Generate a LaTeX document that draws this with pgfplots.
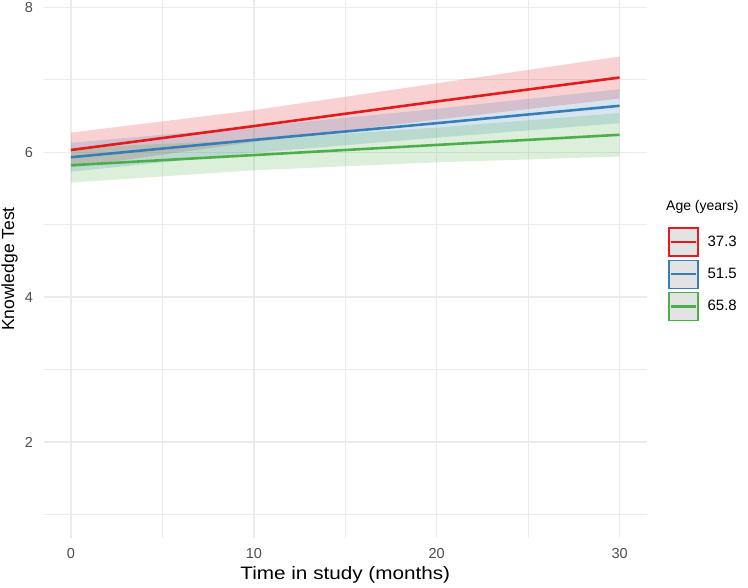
\documentclass[border=0pt]{standalone}
\usepackage{fontspec}
\setmainfont{Liberation Sans}
\usepackage{pgfplots}
\pgfplotsset{compat=1.18}

\definecolor{cRed}{HTML}{E41A1C}
\definecolor{cBlue}{HTML}{377EB8}
\definecolor{cGreen}{HTML}{4DAF4A}
\definecolor{gridgrey}{HTML}{EBEBEB}
\definecolor{tickgrey}{HTML}{4D4D4D}
\definecolor{keygrey}{HTML}{E3E3E3}

\begin{document}
\begin{tikzpicture}
\path[use as bounding box] (-43.6pt,-50pt) rectangle (704.4pt,538pt);
\begin{axis}[
  scale only axis,
  width=603.4pt, height=538pt,
  xmin=-1.5, xmax=31.5,
  ymin=0.676, ymax=8.1,
  axis line style={draw=none},
  major tick length=0pt, minor tick length=0pt,
  xtick={0,10,20,30}, ytick={2,4,6,8},
  minor xtick={5,15,25}, minor ytick={1,3,5,7},
  grid=both,
  major grid style={gridgrey, line width=1.3pt},
  minor grid style={gridgrey, line width=0.7pt},
  /pgf/number format/assume math mode=true,
  tick label style={font=\fontsize{14.5}{17}\selectfont, text=tickgrey},
  xticklabel style={inner sep=0pt, yshift=-10pt},
  yticklabel style={inner sep=0pt, xshift=-10.5pt},
  xlabel={\scalebox{1.15}[1]{Time in study (months)}},
  ylabel={Knowledge Test},
  every axis x label/.style={at={(axis description cs:0.5,-0.0688)}, anchor=center,
    font=\fontsize{18}{21}\selectfont},
  every axis y label/.style={at={(axis description cs:-0.0563,0.5)}, rotate=90, anchor=center,
    font=\fontsize{17.5}{21}\selectfont},
  legend style={draw=none, fill=none, inner sep=0pt,
    at={(axis description cs:1.035,0.578)}, anchor=north west,
    row sep=3pt, font=\fontsize{15}{18}\selectfont,
    /tikz/every odd column/.append style={column sep=7pt}},
  legend cell align=left,
  clip=false,
]
% confidence bands
\addplot[forget plot, draw=none, fill=cRed, fill opacity=0.2]
  coordinates {(0,6.27) (10,6.58) (20,6.95) (30,7.32) (30,6.74) (20,6.45) (10,6.14) (0,5.79)} -- cycle;
\addplot[forget plot, draw=none, fill=cBlue, fill opacity=0.2]
  coordinates {(0,6.13) (10,6.35) (20,6.60) (30,6.87) (30,6.40) (20,6.20) (10,5.99) (0,5.73)} -- cycle;
\addplot[forget plot, draw=none, fill=cGreen, fill opacity=0.2]
  coordinates {(0,6.06) (10,6.17) (20,6.34) (30,6.54) (30,5.94) (20,5.86) (10,5.75) (0,5.58)} -- cycle;
% fitted lines
\addplot[forget plot, cRed, line width=2.6pt] coordinates {(0,6.03) (10,6.36) (20,6.70) (30,7.03)};
\addplot[forget plot, cBlue, line width=2.6pt] coordinates {(0,5.93) (10,6.17) (20,6.40) (30,6.64)};
\addplot[forget plot, cGreen, line width=2.6pt] coordinates {(0,5.82) (10,5.96) (20,6.10) (30,6.24)};
% legend keys
\addlegendimage{legend image code/.code={
  \draw[cRed, line width=1.3pt, fill=keygrey] (0pt,-14pt) rectangle (29pt,14pt);
  \draw[cRed, line width=2.6pt] (2pt,0pt) -- (27pt,0pt);}}
\addlegendentry{37.3}
\addlegendimage{legend image code/.code={
  \draw[cBlue, line width=1.3pt, fill=keygrey] (0pt,-14pt) rectangle (29pt,14pt);
  \draw[cBlue, line width=2.6pt] (2pt,0pt) -- (27pt,0pt);}}
\addlegendentry{51.5}
\addlegendimage{legend image code/.code={
  \draw[cGreen, line width=1.3pt, fill=keygrey] (0pt,-14pt) rectangle (29pt,14pt);
  \draw[cGreen, line width=2.6pt] (2pt,0pt) -- (27pt,0pt);}}
\addlegendentry{65.8}
\node[anchor=west, inner sep=0pt, font=\fontsize{14}{17}\selectfont]
  at (axis description cs:1.0315,0.615) {Age (years)};
\end{axis}
\end{tikzpicture}
\end{document}
